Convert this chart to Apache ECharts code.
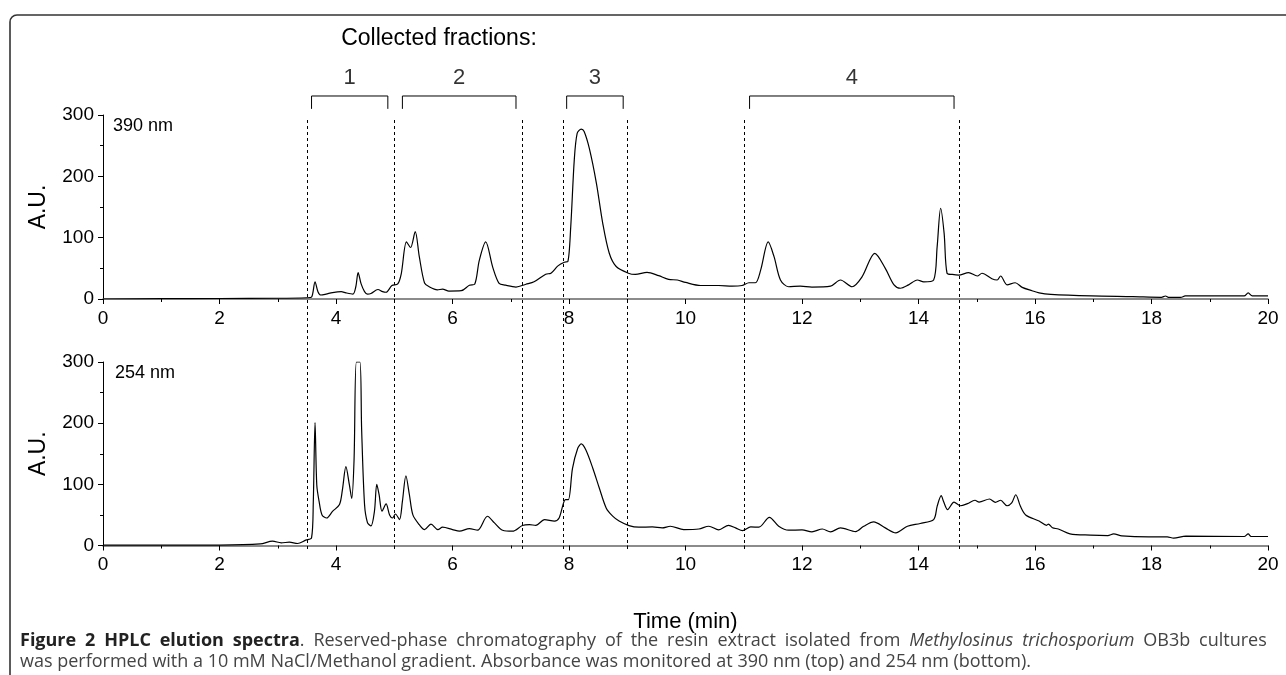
<!DOCTYPE html>
<html>
<head>
<meta charset="utf-8">
<script src="https://cdn.jsdelivr.net/npm/echarts@6/dist/echarts.min.js"></script>
<style>
  html, body { margin: 0; padding: 0; background: #fff; }
  #chart { width: 1286px; height: 675px; }
</style>
</head>
<body>
<div id="chart"></div>
<script>
// 390 nm trace (time in min, absorbance)
const t390 = [0, 1, 2, 3, 3.5, 3.58, 3.64, 3.69, 3.74, 3.83, 3.94, 4.09, 4.17, 4.29, 4.34, 4.38, 4.43, 4.49, 4.54, 4.6, 4.72, 4.8, 4.86, 4.96,
  5.06, 5.12, 5.21, 5.28, 5.36, 5.43, 5.52, 5.6, 5.74, 5.83, 5.94, 6.15, 6.29, 6.38, 6.46, 6.57, 6.69, 6.8, 6.91, 7.09, 7.26, 7.4,
  7.6, 7.69, 7.81, 7.92, 7.98, 8.03, 8.09, 8.14, 8.21, 8.26, 8.35, 8.47, 8.58, 8.69, 8.81, 9.02, 9.14, 9.34, 9.54, 9.71, 9.86, 10,
  10.26, 10.57, 10.8, 10.97, 11.09, 11.2, 11.29, 11.42, 11.52, 11.63, 11.77, 11.97, 12.17, 12.49, 12.66, 12.86, 13.03, 13.25, 13.43,
  13.58, 13.69, 13.83, 13.98, 14.09, 14.26, 14.32, 14.38, 14.44, 14.49, 14.58, 14.69, 14.86, 15.01, 15.09, 15.26, 15.35, 15.41,
  15.52, 15.66, 15.78, 15.95, 16.07, 16.27, 16.97, 17.68, 18.17, 18.24, 18.3, 18.5, 18.58, 19.59, 19.66, 19.73, 20]
const a390 = [0, 0.5, 0.8, 1.2, 2, 3, 28, 12, 6.5, 8, 10.5, 12, 10, 8, 20, 43, 25, 12, 8, 9, 15.5, 12, 11, 22,
  24.5, 41, 93, 84, 110, 69, 26, 20, 15, 16, 13, 13.5, 22.5, 24, 63, 93, 52, 25.5, 22.5, 19.5, 24, 28,
  40.5, 42, 54, 60, 61, 118, 226, 270, 277, 273, 245, 189, 123, 75, 53, 42, 40, 43.5, 38, 32, 31, 27,
  22, 22, 21, 22, 26.5, 26.5, 47, 93, 69, 31, 20, 21, 19.5, 21, 31, 20, 36, 74.5, 50,
  23, 17.5, 23, 31, 28, 31, 85, 148, 107, 42, 40, 39, 43, 37.5, 42, 33, 31, 37.5,
  23, 26.5, 19, 13.5, 10, 7.6, 5, 3.8, 2.7, 4.9, 2.5, 2.5, 5, 5, 10, 5, 5]

// 254 nm trace
const t254 = [0, 1, 2, 2.7, 2.91, 3.06, 3.2, 3.34, 3.48, 3.58, 3.61, 3.64, 3.67, 3.71, 3.76, 3.84, 3.94, 4.06, 4.11, 4.17, 4.23,
  4.27, 4.31, 4.35, 4.41, 4.44, 4.49, 4.54, 4.6, 4.66, 4.7, 4.74, 4.79, 4.86, 4.92, 4.97, 5.02, 5.09, 5.14, 5.2, 5.26, 5.32,
  5.43, 5.52, 5.63, 5.75, 5.83, 6, 6.12, 6.29, 6.43, 6.6, 6.72, 6.86, 7.03, 7.2, 7.32, 7.43, 7.58, 7.75, 7.83, 7.94, 7.99,
  8.06, 8.15, 8.21, 8.29, 8.41, 8.52, 8.64, 8.75, 8.86, 9.03, 9.2, 9.43, 9.6, 9.74, 9.97, 10.23, 10.4, 10.57, 10.74, 10.86,
  10.98, 11.12, 11.26, 11.44, 11.6, 11.77, 12, 12.17, 12.35, 12.49, 12.66, 12.92, 13.06, 13.23, 13.43, 13.61, 13.81, 14.03,
  14.26, 14.32, 14.39, 14.43, 14.5, 14.61, 14.72, 14.84, 14.97, 15.04, 15.22, 15.32, 15.41, 15.52, 15.6, 15.67, 15.75, 15.84,
  16.07, 16.2, 16.23, 16.3, 16.4, 16.6, 16.95, 17.25, 17.35, 17.49, 17.95, 18.27, 18.38, 18.59, 19.59, 19.66, 19.71, 20]
const a254 = [0.5, 0.5, 0.7, 2.7, 7, 4.4, 5.4, 3.3, 8.7, 12.5, 70, 201, 99, 72, 50, 45, 55.7, 67, 91, 129, 99,
  77, 140, 300, 300, 190, 67, 37.5, 32, 56, 100, 83, 56, 68, 50, 45, 51.5, 42.4, 72, 114, 83, 50,
  34, 26, 35, 26, 30, 26, 23.4, 27.7, 25, 47.8, 37, 25, 23.4, 32.6, 34, 33, 42.4, 40, 45, 75, 75,
  126, 159, 166, 156, 126, 94, 61, 48, 40, 32.6, 30, 30.4, 28.8, 31.5, 26, 27, 31.5, 25.6, 33, 28.8,
  24.4, 30.4, 30, 46, 31.5, 25, 25.6, 22.3, 27, 22.3, 28.8, 22.8, 31.5, 38.6, 28.8, 20.7, 31.5, 36,
  42.4, 64, 81.5, 72, 58.7, 71, 65, 68.5, 74, 71, 76, 70.6, 74, 65, 69.6, 83, 64, 50,
  40, 33, 35, 29, 27, 19, 17, 16.3, 19, 15.8, 14.1, 14.1, 12, 15.2, 14.7, 19, 14.7, 14.7]

// collected fractions
const cutTimes = [3.5, 5.0, 7.2, 7.9, 9.0, 11.0, 14.7]
const fractionNames = ['1', '2', '3', '4']
const fractionStart = [3.58, 5.14, 7.96, 11.1]
const fractionEnd = [4.89, 7.09, 8.93, 14.61]

const xTicks = { min: 0, max: 20, interval: 2 }
const yTicks = { min: 0, max: 300, interval: 100 }

const zip = (xs, ys) => xs.map((x, i) => [x, ys[i]])
const axisFont = 'Liberation Sans, Arial, sans-serif'
const capFont = 'Open Sans, Noto Sans, sans-serif'

// caption, first line is justified in the original, so spaces get a wider token
const caption1 = [
  ['b', 'Figure 2 HPLC elution spectra'],
  ['n', '. Reserved-phase chromatography of the resin extract isolated from '],
  ['i', 'Methylosinus trichosporium'],
  ['n', ' OB3b cultures']
]
const caption2 = 'was performed with a 10 mM NaCl/Methanol gradient. Absorbance was monitored at 390 nm (top) and 254 nm (bottom).'

const richLine = (parts) => parts.map(([st, txt]) =>
  txt.split(' ').map((w) => (w ? '{' + st + '|' + w + '}' : '')).join('{s| }')
).join('')

const chart = echarts.init(document.getElementById('chart'))

const makeX = (gridIndex, withName) => ({
  gridIndex,
  type: 'value',
  ...xTicks,
  offset: 3,
  name: withName ? 'Time (min)' : '',
  nameLocation: 'middle',
  nameGap: 62,
  nameTextStyle: { fontSize: 22, color: '#000', fontFamily: axisFont },
  axisLine: { lineStyle: { color: '#666', width: 1.5 } },
  axisTick: { length: 5, lineStyle: { color: '#000' } },
  minorTick: { show: true, splitNumber: 2, length: 3, lineStyle: { color: '#000' } },
  axisLabel: { fontSize: 19, color: '#000', margin: 7, fontFamily: axisFont },
  splitLine: { show: false }
})

const makeY = (gridIndex) => ({
  gridIndex,
  type: 'value',
  ...yTicks,
  name: 'A.U.',
  nameLocation: 'middle',
  nameGap: 53,
  nameTextStyle: { fontSize: 23, color: '#000', fontFamily: axisFont },
  axisLine: { show: true, lineStyle: { color: '#000', width: 1 } },
  axisTick: { length: 5, lineStyle: { color: '#000' } },
  minorTick: { show: true, splitNumber: 2, length: 3, lineStyle: { color: '#000' } },
  axisLabel: { fontSize: 19, color: '#000', margin: 9, fontFamily: axisFont },
  splitLine: { show: false }
})

const trace = (idx, data) => ({
  type: 'line',
  xAxisIndex: idx,
  yAxisIndex: idx,
  data,
  symbol: 'none',
  smooth: 0.3,
  lineStyle: { color: '#000', width: 1.2 },
  silent: true
})

const brackets = fractionNames.map((name, i) => ({
  type: 'line',
  xAxisIndex: 0,
  yAxisIndex: 0,
  clip: false,
  symbol: 'none',
  silent: true,
  lineStyle: { color: '#000', width: 1 },
  data: [[fractionStart[i], 310], [fractionStart[i], 331], [fractionEnd[i], 331], [fractionEnd[i], 310]]
}))

chart.setOption({
  backgroundColor: '#fff',
  animation: false,
  grid: [
    { left: 103, right: 18, top: 115, bottom: 376 },
    { left: 103, right: 18, top: 362, bottom: 129.5 },
    // overlay for the cut lines crossing both panels
    { left: 103, right: 18, top: 117, bottom: 126 }
  ],
  xAxis: [makeX(0, false), makeX(1, true), { gridIndex: 2, type: 'value', min: 0, max: 20, show: false }],
  yAxis: [makeY(0), makeY(1), { gridIndex: 2, type: 'value', min: 0, max: 1, show: false }],
  series: [
    trace(0, zip(t390, a390)),
    trace(1, zip(t254, a254)),
    ...brackets,
    {
      type: 'scatter',
      xAxisIndex: 0,
      yAxisIndex: 0,
      clip: false,
      symbolSize: 0,
      silent: true,
      data: fractionNames.map((n, i) => ({ value: [(fractionStart[i] + fractionEnd[i]) / 2, 360], name: n })),
      label: {
        show: true,
        position: 'inside',
        formatter: (p) => p.name,
        fontSize: 22,
        color: '#000',
        textBorderWidth: 0,
        fontFamily: axisFont
      }
    },
    {
      type: 'line',
      xAxisIndex: 2,
      yAxisIndex: 2,
      data: [],
      silent: true,
      markLine: {
        silent: true,
        symbol: 'none',
        label: { show: false },
        lineStyle: { color: '#000', type: [3, 3], width: 1 },
        data: cutTimes.map((t) => ({ xAxis: t }))
      }
    }
  ],
  graphic: [
    {
      type: 'rect',
      shape: { x: 10, y: 15, width: 1320, height: 720, r: [7, 0, 0, 0] },
      style: { fill: 'none', stroke: '#333', lineWidth: 1.6 },
      silent: true
    },
    {
      type: 'text',
      style: { x: 439, y: 39, text: 'Collected fractions:', textAlign: 'center', textVerticalAlign: 'middle', font: '23px Liberation Sans', fill: '#000' }
    },
    {
      type: 'text',
      style: { x: 113, y: 126, text: '390 nm', textVerticalAlign: 'middle', font: '18px Liberation Sans', fill: '#000' }
    },
    {
      type: 'text',
      style: { x: 115, y: 373, text: '254 nm', textVerticalAlign: 'middle', font: '18px Liberation Sans', fill: '#000' }
    },
    {
      type: 'text',
      style: {
        x: 20, y: 641, textVerticalAlign: 'middle',
        text: richLine(caption1),
        rich: {
          b: { fontWeight: 'bold', fontSize: 18, fontFamily: capFont, fill: '#222', lineHeight: 22 },
          i: { fontStyle: 'italic', fontSize: 18, fontFamily: capFont, fill: '#444', lineHeight: 22 },
          n: { fontSize: 18, fontFamily: capFont, fill: '#444', lineHeight: 22 },
          s: { fontSize: 34, fontFamily: capFont, fill: '#444', lineHeight: 22 }
        }
      }
    },
    {
      type: 'text',
      style: {
        x: 20, y: 662, textVerticalAlign: 'middle',
        text: caption2,
        font: '18px ' + capFont, fill: '#444'
      }
    }
  ]
})

window.addEventListener('resize', () => chart.resize())
</script>
</body>
</html>
